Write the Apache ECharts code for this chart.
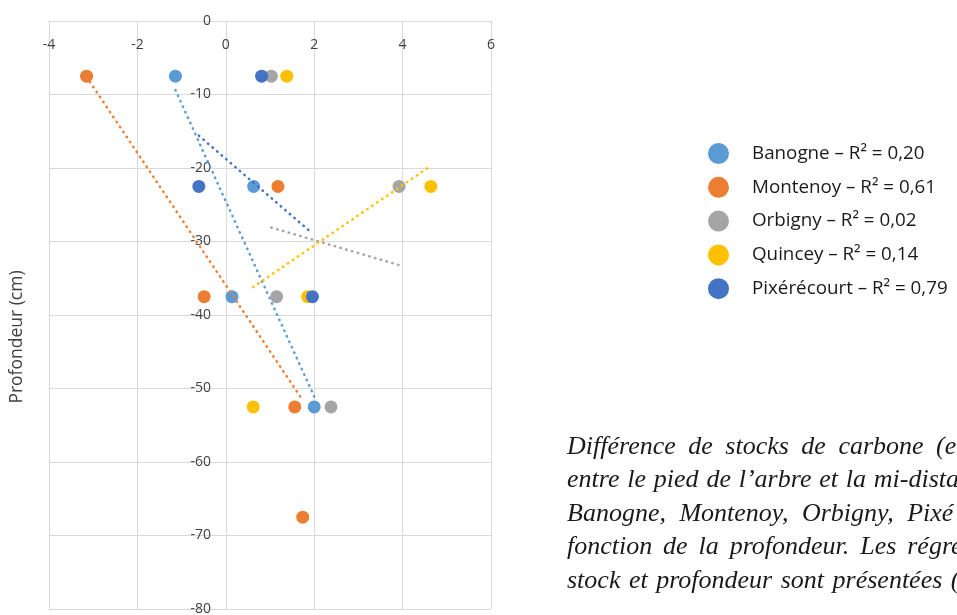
<!DOCTYPE html>
<html>
<head>
<meta charset="utf-8">
<script src="https://cdn.jsdelivr.net/npm/echarts@6/dist/echarts.min.js"></script>
<style>
  html, body { margin: 0; padding: 0; background: #fff; }
  #chart { width: 957px; height: 615px; }
</style>
</head>
<body>
<div id="chart"></div>
<script>
// profondeurs des prélèvements (cm)
const depths = [-7.5, -22.5, -37.5, -52.5, -67.5]
const xTicks = [-4, -2, 0, 2, 4, 6]

// différence de stock par site, une valeur par profondeur
const banogneX = [-1.14, 0.63, 0.14, 2.0]
const montenoyX = [-3.15, 1.18, -0.49, 1.56, 1.74]
const orbignyX = [1.03, 3.92, 1.15, 2.38]
const quinceyX = [1.38, 4.64, 1.85, 0.62]
const pixerecourtX = [0.81, -0.61, 1.96]

// extrémités des droites de tendance
const banogneTrend = [[-1.14, -9.4], [2.0, -51.1]]
const montenoyTrend = [[-3.15, -7.6], [1.74, -51.6]]
const orbignyTrend = [[1.03, -28.1], [3.92, -33.2]]
const quinceyTrend = [[0.62, -36.2], [4.64, -19.7]]
const pixerecourtTrend = [[-0.61, -15.6], [1.96, -28.9]]

const siteNames = ['Banogne', 'Montenoy', 'Orbigny', 'Quincey', 'Pixérécourt']
const r2Labels = ['0,20', '0,61', '0,02', '0,14', '0,79']
const siteColors = ['#5B9BD5', '#ED7D31', '#A5A5A5', '#FFC000', '#4472C4']

// légende de la figure (paragraphe justifié, coupé à droite)
const captionLines = [
    'Différence de stocks de carbone (e',
    'entre le pied de l’arbre et la mi-dista',
    'Banogne, Montenoy, Orbigny, Pixé',
    'fonction de la profondeur. Les régre',
    'stock et profondeur sont présentées ('
]
const captionGaps = [12.5, 7.8, 13.5, 10.9, 8.5]

function pair(xs) {
    return xs.map(function (x, i) { return [x, depths[i]] })
}

const siteX = [banogneX, montenoyX, orbignyX, quinceyX, pixerecourtX]
const siteTrend = [banogneTrend, montenoyTrend, orbignyTrend, quinceyTrend, pixerecourtTrend]
const legendNames = siteNames.map(function (n, i) { return n + ' – R² = ' + r2Labels[i] })

const series = []
siteNames.forEach(function (n, i) {
    series.push({
        name: legendNames[i],
        type: 'scatter',
        symbol: 'circle',
        symbolSize: 13,
        itemStyle: { color: siteColors[i], opacity: 1 },
        z: 2,
        data: pair(siteX[i])
    })
})
// droites de tendance en pointillés, au-dessus des points
siteNames.forEach(function (n, i) {
    series.push({
        name: n + ' tendance',
        type: 'line',
        showSymbol: false,
        symbol: 'none',
        silent: true,
        z: 3,
        lineStyle: { color: siteColors[i], width: 2.5, type: [0.5, 5.5], cap: 'round' },
        data: siteTrend[i]
    })
})

// placement mot à mot pour imiter la justification
const captionFont = 'italic 26px "Liberation Serif"'
const ctx = document.createElement('canvas').getContext('2d')
ctx.font = captionFont
const graphics = []
captionLines.forEach(function (line, i) {
    let x = 567
    line.split(' ').forEach(function (w) {
        graphics.push({
            type: 'text', left: x, top: 434 + i * 33.5,
            style: { text: w, font: captionFont, fill: '#1a1a1a' }
        })
        x += ctx.measureText(w).width + captionGaps[i]
    })
})
graphics.push({
    type: 'text', x: 17, y: 337, rotation: Math.PI / 2,
    style: {
        text: 'Profondeur (cm)', font: '17.5px "Open Sans"', fill: '#404040',
        align: 'center', verticalAlign: 'middle'
    }
})

const chart = echarts.init(document.getElementById('chart'))
const option = {
    backgroundColor: '#fff',
    animation: false,
    textStyle: { fontFamily: 'Open Sans' },
    grid: { left: 49, right: 466, top: 21, bottom: 6, outerBoundsMode: 'none', containLabel: false },
    legend: {
        orient: 'vertical',
        left: 703,
        top: 138,
        padding: 5,
        icon: 'circle',
        itemWidth: 21,
        itemHeight: 21,
        itemGap: 12.8,
        data: legendNames,
        textStyle: {
            fontSize: 18.8, lineHeight: 21, color: '#1a1a1a', fontFamily: 'Open Sans',
            padding: [0, 0, 0, 18]
        }
    },
    xAxis: {
        type: 'value',
        min: xTicks[0],
        max: xTicks[xTicks.length - 1],
        interval: 2,
        position: 'top',
        axisLine: { show: true, onZero: false, lineStyle: { color: '#d9d9d9', width: 1 } },
        axisTick: { show: false },
        axisLabel: { inside: true, color: '#404040', fontSize: 14, margin: 17, showMinLabel: true, showMaxLabel: true },
        splitLine: { show: true, lineStyle: { color: '#d9d9d9', width: 1 } }
    },
    yAxis: {
        type: 'value',
        min: -80,
        max: 0,
        interval: 10,
        position: 'left',
        offset: -177,
        axisLine: { show: true, onZero: false, lineStyle: { color: '#d9d9d9', width: 1 } },
        axisTick: { show: false },
        axisLabel: { color: '#404040', fontSize: 14, margin: 15, showMinLabel: true, showMaxLabel: true },
        splitLine: { show: true, lineStyle: { color: '#d9d9d9', width: 1 } }
    },
    graphic: graphics,
    series: series
}
chart.setOption(option)
</script>
</body>
</html>
